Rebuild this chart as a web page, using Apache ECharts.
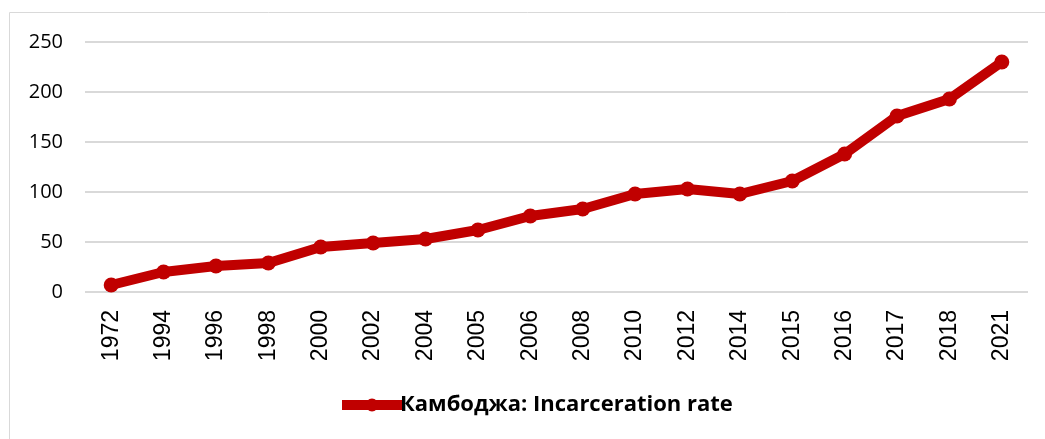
<!DOCTYPE html>
<html>
<head>
<meta charset="utf-8">
<script src="https://cdn.jsdelivr.net/npm/echarts@6/dist/echarts.min.js"></script>
<style>
  html, body { margin: 0; padding: 0; background: #fff; }
  #chart { width: 1045px; height: 439px; }
</style>
</head>
<body>
<div id="chart"></div>
<script>
  var years = ['1972', '1994', '1996', '1998', '2000', '2002', '2004', '2005', '2006',
    '2008', '2010', '2012', '2014', '2015', '2016', '2017', '2018', '2021']
  var rates = [7, 20, 26, 29, 45, 49, 53, 62, 76, 83, 98, 103, 98, 111, 138, 176, 193, 230]
  var seriesName = 'Камбоджа: Incarceration rate'

  var chart = echarts.init(document.getElementById('chart'))
  chart.setOption({
    animation: false,
    graphic: [{
      type: 'rect',
      shape: { x: 9.5, y: 12.5, width: 1100, height: 500 },
      style: { fill: 'none', stroke: '#d9d9d9', lineWidth: 1 }
    }],
    legend: {
      data: [seriesName],
      left: 337,
      top: 394,
      padding: 0,
      itemWidth: 60,
      itemHeight: 16,
      itemGap: 0,
      lineStyle: { width: 10 },
      textStyle: {
        fontFamily: 'Open Sans',
        fontWeight: 'bold',
        fontSize: 22,
        color: '#000',
        padding: [0, 0, 0, -7]
      }
    },
    grid: { left: 85, right: 17, top: 42, bottom: 147 },
    xAxis: {
      type: 'category',
      data: years,
      boundaryGap: true,
      axisLine: { show: false },
      axisTick: { show: false },
      axisLabel: {
        rotate: 90,
        margin: 18,
        fontFamily: 'Liberation Sans',
        fontSize: 23,
        color: '#000'
      }
    },
    yAxis: {
      type: 'value',
      min: 0,
      max: 250,
      interval: 50,
      axisLine: { show: false },
      axisTick: { show: false },
      splitLine: { lineStyle: { color: '#d9d9d9', width: 2 } },
      axisLabel: {
        margin: 22,
        fontFamily: 'Open Sans',
        fontSize: 20,
        color: '#000'
      }
    },
    series: [{
      name: seriesName,
      type: 'line',
      data: rates,
      symbol: 'circle',
      symbolSize: 15,
      itemStyle: { color: '#c00000' },
      lineStyle: { color: '#c00000', width: 10 }
    }]
  })
</script>
</body>
</html>
